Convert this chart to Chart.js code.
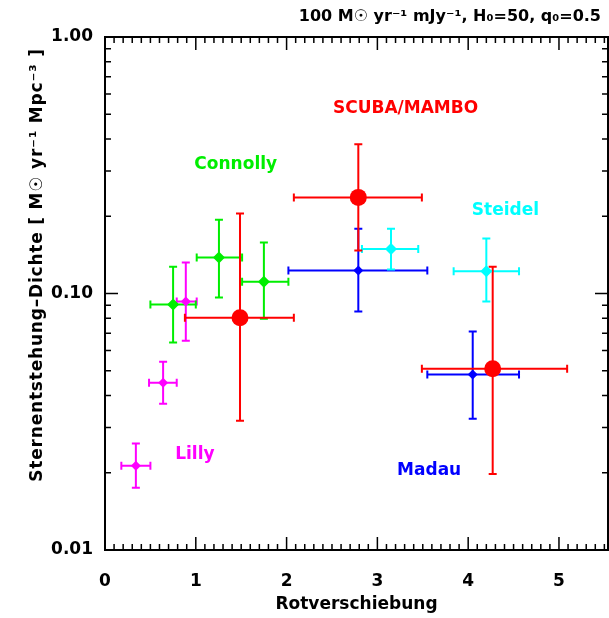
<!DOCTYPE html>
<html>
<head>
<meta charset="utf-8">
<script src="https://cdn.jsdelivr.net/npm/chart.js@4"></script>
<style>
  html, body { margin: 0; padding: 0; background: #fff; overflow: hidden; }
  #wrap { width: 609px; height: 618px; }
  canvas { display: block; }
</style>
</head>
<body>
<div id="wrap"><canvas id="sfr"></canvas></div>
<script>
// redshift ticks and density ticks
const xTicks = [0, 1, 2, 3, 4, 5];
const yTicks = [0.01, 0.1, 1];

// Lilly
const lillyZ = [0.34, 0.64, 0.89];
const lillyZLo = [0.18, 0.485, 0.79];
const lillyZHi = [0.50, 0.79, 1.01];
const lillyRate = [0.0213, 0.0449, 0.093];
const lillyRateLo = [0.0175, 0.0372, 0.0655];
const lillyRateHi = [0.026, 0.0542, 0.132];

// Connolly
const connollyZ = [0.75, 1.255, 1.75];
const connollyZLo = [0.5, 1.01, 1.51];
const connollyZHi = [1.0, 1.51, 2.02];
const connollyRate = [0.0906, 0.138, 0.111];
const connollyRateLo = [0.0644, 0.0965, 0.0798];
const connollyRateHi = [0.127, 0.194, 0.158];

// SCUBA/MAMBO
const scubaZ = [1.487, 2.79, 4.27];
const scubaZLo = [0.88, 2.08, 3.49];
const scubaZHi = [2.08, 3.49, 5.09];
const scubaRate = [0.0805, 0.237, 0.0509];
const scubaRateLo = [0.0319, 0.147, 0.0198];
const scubaRateHi = [0.205, 0.382, 0.127];

// Madau
const madauZ = [2.79, 4.05];
const madauZLo = [2.02, 3.55];
const madauZHi = [3.55, 4.56];
const madauRate = [0.123, 0.0483];
const madauRateLo = [0.085, 0.0325];
const madauRateHi = [0.179, 0.0711];

// Steidel
const steidelZ = [3.15, 4.2];
const steidelZLo = [2.83, 3.84];
const steidelZHi = [3.45, 4.56];
const steidelRate = [0.149, 0.122];
const steidelRateLo = [0.124, 0.093];
const steidelRateHi = [0.179, 0.164];

const FONT = "'DejaVu Sans', sans-serif";

function pts(z, zLo, zHi, r, rLo, rHi) {
  return z.map((v, i) => ({ x: v, y: r[i], xMin: zLo[i], xMax: zHi[i], yMin: rLo[i], yMax: rHi[i] }));
}

const sets = [
  { label: "Lilly", color: "#ff00ff", style: "rectRot", r: 5, data: pts(lillyZ, lillyZLo, lillyZHi, lillyRate, lillyRateLo, lillyRateHi),
    tag: { x: 0.99, y: 0.0235 } },
  { label: "Connolly", color: "#00ee00", style: "rectRot", r: 6, data: pts(connollyZ, connollyZLo, connollyZHi, connollyRate, connollyRateLo, connollyRateHi),
    tag: { x: 1.44, y: 0.319 } },
  { label: "Madau", color: "#0000ff", style: "rectRot", r: 5, data: pts(madauZ, madauZLo, madauZHi, madauRate, madauRateLo, madauRateHi),
    tag: { x: 3.57, y: 0.0204 } },
  { label: "Steidel", color: "#00ffff", style: "rectRot", r: 6, data: pts(steidelZ, steidelZLo, steidelZHi, steidelRate, steidelRateLo, steidelRateHi),
    tag: { x: 4.41, y: 0.211 } },
  { label: "SCUBA/MAMBO", color: "#ff0000", style: "circle", r: 8.5, data: pts(scubaZ, scubaZLo, scubaZHi, scubaRate, scubaRateLo, scubaRateHi),
    tag: { x: 3.31, y: 0.524 } },
];

// error bars, frame, inward ticks, labels
const extras = {
  id: "extras",
  beforeDatasetsDraw(chart) {
    const { ctx, scales: { x, y } } = chart;
    ctx.save();
    ctx.lineWidth = 2;
    chart.data.datasets.forEach(ds => {
      ctx.strokeStyle = ds.backgroundColor;
      ds.data.forEach(p => {
        const px = x.getPixelForValue(p.x), py = y.getPixelForValue(p.y);
        const x0 = x.getPixelForValue(p.xMin), x1 = x.getPixelForValue(p.xMax);
        const y0 = y.getPixelForValue(p.yMin), y1 = y.getPixelForValue(p.yMax);
        ctx.beginPath();
        ctx.moveTo(x0, py); ctx.lineTo(x1, py);
        ctx.moveTo(x0, py - 4); ctx.lineTo(x0, py + 4);
        ctx.moveTo(x1, py - 4); ctx.lineTo(x1, py + 4);
        ctx.moveTo(px, y0); ctx.lineTo(px, y1);
        ctx.moveTo(px - 4, y0); ctx.lineTo(px + 4, y0);
        ctx.moveTo(px - 4, y1); ctx.lineTo(px + 4, y1);
        ctx.stroke();
      });
    });
    ctx.restore();
  },
  afterDraw(chart) {
    const { ctx, chartArea: a, scales: { x, y } } = chart;
    ctx.save();
    ctx.strokeStyle = "#000";
    ctx.lineWidth = 2;
    ctx.strokeRect(a.left, a.top, a.right - a.left, a.bottom - a.top);

    ctx.lineWidth = 1.5;
    ctx.beginPath();
    for (let k = 0; k <= 55; k++) {
      const v = k / 10;
      const px = x.getPixelForValue(v);
      if (px > a.right) break;
      const len = k % 10 === 0 ? 13 : 6;
      ctx.moveTo(px, a.bottom); ctx.lineTo(px, a.bottom - len);
      ctx.moveTo(px, a.top); ctx.lineTo(px, a.top + len);
    }
    [0.01, 0.1].forEach(dec => {
      for (let m = 1; m <= 10; m++) {
        const py = y.getPixelForValue(dec * m);
        const len = (m === 1 || m === 10) ? 13 : 6;
        ctx.moveTo(a.left, py); ctx.lineTo(a.left + len, py);
        ctx.moveTo(a.right, py); ctx.lineTo(a.right - len, py);
      }
    });
    ctx.stroke();

    ctx.textAlign = "center";
    ctx.textBaseline = "middle";
    ctx.font = "bold 17px " + FONT;
    chart.data.datasets.forEach(ds => {
      ctx.fillStyle = ds.backgroundColor;
      ctx.fillText(ds.label, x.getPixelForValue(ds.tag.x), y.getPixelForValue(ds.tag.y));
    });

    ctx.fillStyle = "#000";
    ctx.textAlign = "right";
    ctx.font = "bold 16px " + FONT;
    ctx.fillText("100 M\u2609 yr\u207B\u00B9 mJy\u207B\u00B9, H\u2080=50, q\u2080=0.5", 601, 17);

    ctx.translate(38, 265);
    ctx.rotate(-Math.PI / 2);
    ctx.textAlign = "center";
    ctx.font = "bold 17px " + FONT;
    ctx.letterSpacing = "0.8px";
    ctx.fillText("Sternentstehung\u2013Dichte [ M\u2609 yr\u207B\u00B9 Mpc\u207B\u00B3 ]", 0, 0);
    ctx.restore();
  }
};

new Chart(document.getElementById("sfr"), {
  type: "scatter",
  data: {
    datasets: sets.map(s => ({
      label: s.label,
      data: s.data,
      backgroundColor: s.color,
      borderWidth: 0,
      pointStyle: s.style,
      pointRadius: s.r,
      pointHoverRadius: s.r,
      tag: s.tag,
    })),
  },
  options: {
    responsive: true,
    maintainAspectRatio: false,
    animation: false,
    layout: { autoPadding: false, padding: { top: 37, right: 1, left: 0, bottom: 0 } },
    plugins: {
      legend: { display: false },
      tooltip: { enabled: false },
    },
    scales: {
      x: {
        type: "linear",
        min: 0,
        max: 5.54,
        afterBuildTicks: s => { s.ticks = xTicks.map(v => ({ value: v })); },
        afterFit: s => { s.height = 68; s.paddingLeft = 0; s.paddingRight = 0; },
        grid: { display: false, drawTicks: false },
        border: { display: false },
        ticks: { color: "#000", padding: 21, maxRotation: 0, font: { family: FONT, size: 17, weight: "bold" } },
        title: {
          display: true,
          text: "Rotverschiebung",
          color: "#000",
          padding: { top: 0, bottom: 3 },
          font: { family: FONT, size: 17, weight: "bold" },
        },
      },
      y: {
        type: "logarithmic",
        min: 0.01,
        max: 1,
        afterBuildTicks: s => { s.ticks = yTicks.map(v => ({ value: v })); },
        afterFit: s => { s.width = 105; s.paddingTop = 0; s.paddingBottom = 0; },
        grid: { display: false, drawTicks: false },
        border: { display: false },
        ticks: {
          color: "#000",
          padding: 12,
          font: { family: FONT, size: 17, weight: "bold" },
          callback: v => Number(v).toFixed(2),
        },
      },
    },
  },
  plugins: [extras],
});
</script>
</body>
</html>
